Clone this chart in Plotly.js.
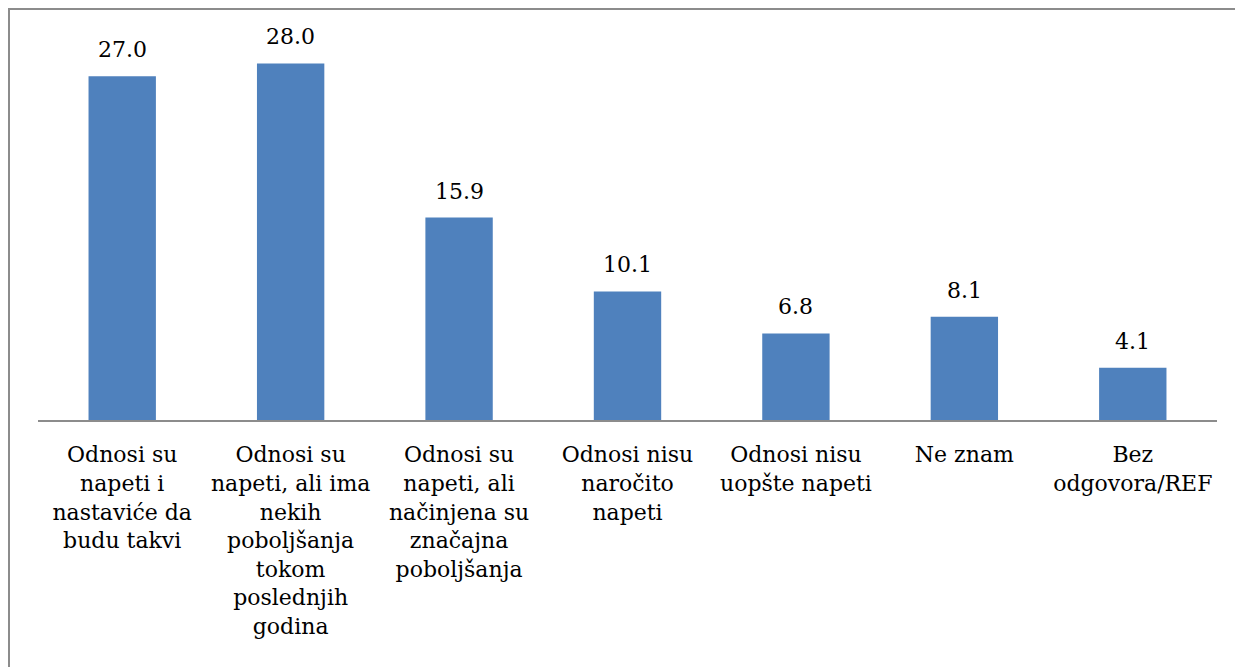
<!DOCTYPE html>
<html>
<head>
<meta charset="utf-8">
<script src="https://cdn.plot.ly/plotly-3.0.1.min.js"></script>
<style>
  html, body { margin: 0; padding: 0; background: #fff; }
  #wrap { position: relative; width: 1235px; height: 667px; }
  #chart { position: absolute; left: 0; top: 0; width: 1235px; height: 667px; }
  #frame { position: absolute; left: 8px; top: 8px; width: 1240px; height: 700px;
           border-left: 2px solid #8c8c8c; border-top: 2px solid #8c8c8c; pointer-events: none; }
</style>
</head>
<body>
<div id="wrap">
  <div id="chart"></div>
  <div id="frame"></div>
</div>
<script>
// Answer categories (with line breaks as shown under the axis)
const categories = [
  "Odnosi su<br>napeti i<br>nastaviće da<br>budu takvi",
  "Odnosi su<br>napeti, ali ima<br>nekih<br>poboljšanja<br>tokom<br>poslednjih<br>godina",
  "Odnosi su<br>napeti, ali<br>načinjena su<br>značajna<br>poboljšanja",
  "Odnosi nisu<br>naročito<br>napeti",
  "Odnosi nisu<br>uopšte napeti",
  "Ne znam",
  "Bez<br>odgovora/REF"
];
// Share of respondents (%)
const values = [27.0, 28.0, 15.9, 10.1, 6.8, 8.1, 4.1];

const FONT = "DejaVu Serif, Liberation Serif, serif";

const trace = {
  type: "bar",
  x: categories,
  y: values,
  marker: { color: "#4F81BD", line: { width: 0 } },
  hoverinfo: "skip"
};

const valueLabels = categories.map((c, i) => ({
  x: c,
  y: values[i],
  xref: "x",
  yref: "y",
  text: values[i].toFixed(1),
  showarrow: false,
  yanchor: "bottom",
  yshift: 12,
  font: { family: FONT, size: 22, color: "#000" }
}));

const layout = {
  width: 1235,
  height: 667,
  margin: { l: 38, r: 18, t: 38, b: 247 },
  paper_bgcolor: "#fff",
  plot_bgcolor: "#fff",
  showlegend: false,
  bargap: 0.6,
  font: { family: FONT, size: 22, color: "#000" },
  xaxis: {
    type: "category",
    showline: true,
    linecolor: "#8c8c8c",
    linewidth: 2,
    ticks: "",
    showgrid: false,
    zeroline: false,
    tickangle: 0,
    ticklabelstandoff: 14,
    tickfont: { family: FONT, size: 22, color: "#000" }
  },
  yaxis: {
    range: [0, 30],
    visible: false,
    showgrid: false,
    zeroline: false
  },
  annotations: valueLabels
};

Plotly.newPlot("chart", [trace], layout, { displayModeBar: false, staticPlot: true });
</script>
</body>
</html>
